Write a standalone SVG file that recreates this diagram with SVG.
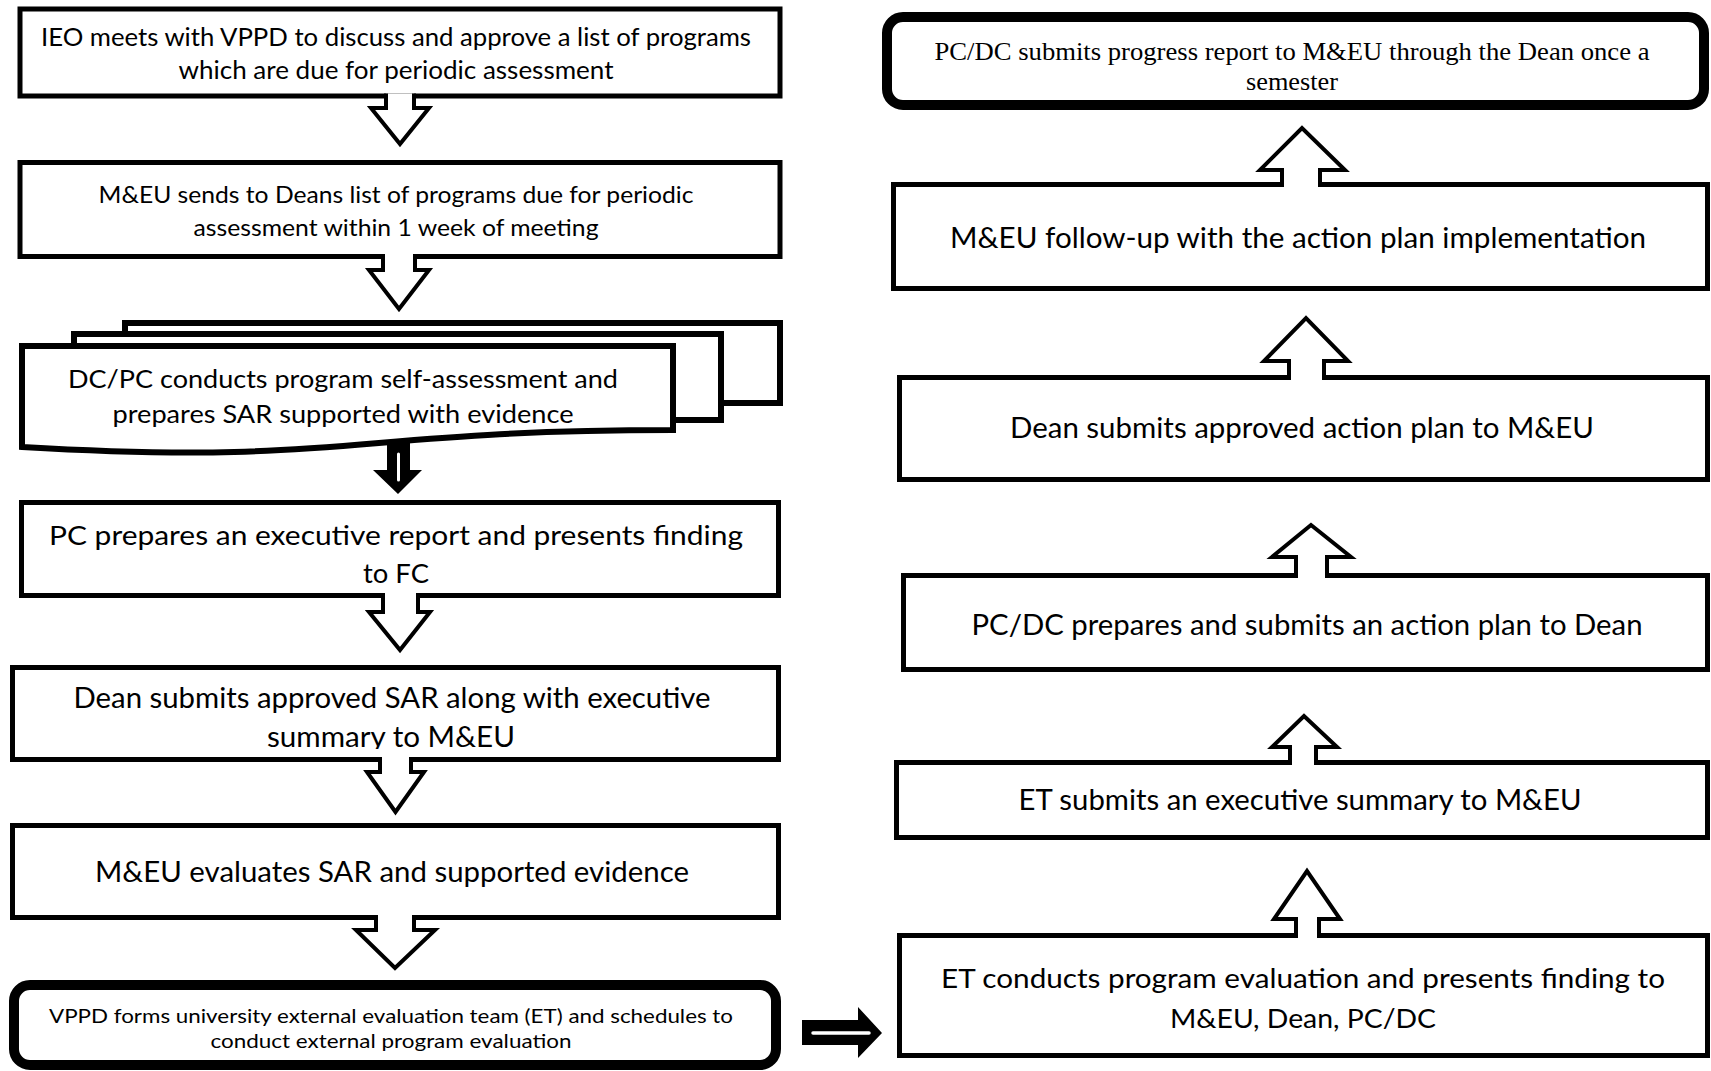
<svg xmlns="http://www.w3.org/2000/svg" width="1711" height="1071" viewBox="0 0 1711 1071">
<style>
.box{fill:#fff;stroke:#000;stroke-width:5}
.thick{fill:#fff;stroke:#000;stroke-width:10}
.sheet{fill:#fff;stroke:#000;stroke-width:6}
.arr{fill:#fff;stroke:#000;stroke-width:4;stroke-linejoin:miter}
.t{font-family:Lato,"Open Sans","DejaVu Sans",sans-serif;fill:#000;text-anchor:middle}
.s{font-family:"Liberation Serif","Times New Roman",serif;fill:#000;text-anchor:middle}
</style>
<defs>
<clipPath id="clip5"><rect x="0" y="660" width="800" height="89"/></clipPath>
</defs>
<rect width="1711" height="1071" fill="#fff"/>

<g id="n1">
<rect class="box" x="20" y="9" width="760" height="87"/>
<text class="t" font-size="24.5" x="396" y="46" textLength="710" lengthAdjust="spacingAndGlyphs">IEO meets with VPPD to discuss and approve a list of programs</text>
<text class="t" font-size="24.5" x="396" y="79" textLength="435" lengthAdjust="spacingAndGlyphs">which are due for periodic assessment</text>
</g>

<g id="n2">
<rect class="box" x="20" y="162.5" width="760" height="94"/>
<text class="t" font-size="23" x="396" y="203" textLength="595" lengthAdjust="spacingAndGlyphs">M&amp;EU sends to Deans list of programs due for periodic</text>
<text class="t" font-size="23" x="396" y="236" textLength="405" lengthAdjust="spacingAndGlyphs">assessment within 1 week of meeting</text>
</g>

<g id="n3">
<rect class="sheet" x="125" y="323" width="655" height="80"/>
<rect class="sheet" x="74" y="334" width="647" height="86"/>
<path class="sheet" d="M22,346 H673 V430 C347,430 347,466 22,447 Z"/>
<text class="t" font-size="25.5" x="343" y="388" textLength="550" lengthAdjust="spacingAndGlyphs">DC/PC conducts program self-assessment  and</text>
<text class="t" font-size="25.5" x="343" y="423" textLength="461" lengthAdjust="spacingAndGlyphs">prepares SAR supported with evidence</text>
</g>

<g id="n4">
<rect class="box" x="21.5" y="502.5" width="757" height="93"/>
<text class="t" font-size="27.5" x="396" y="545" textLength="694" lengthAdjust="spacingAndGlyphs">PC prepares an executive report and  presents finding</text>
<text class="t" font-size="27.5" x="396" y="583" textLength="66" lengthAdjust="spacingAndGlyphs">to FC</text>
</g>

<g id="n5">
<rect class="box" x="12.5" y="667.5" width="766" height="92"/>
<text class="t" font-size="28.5" x="392" y="708" textLength="637" lengthAdjust="spacingAndGlyphs">Dean submits approved SAR along with executive</text>
<text class="t" font-size="28.5" x="391" y="747" textLength="248" lengthAdjust="spacingAndGlyphs" clip-path="url(#clip5)">summary to M&amp;EU</text>
</g>

<g id="n6">
<rect class="box" x="12.5" y="825.5" width="766" height="92"/>
<text class="t" font-size="28.5" x="392" y="882" textLength="594" lengthAdjust="spacingAndGlyphs">M&amp;EU evaluates SAR and supported evidence</text>
</g>

<g id="n7">
<rect class="thick" x="14" y="985" width="762" height="80" rx="16" ry="16"/>
<text class="t" font-size="20" x="391" y="1023" textLength="684" lengthAdjust="spacingAndGlyphs">VPPD forms university external evaluation team (ET)  and schedules to</text>
<text class="t" font-size="20" x="391" y="1048" textLength="361" lengthAdjust="spacingAndGlyphs">conduct external program evaluation</text>
</g>

<g id="r1">
<rect class="thick" x="887" y="17" width="817" height="88" rx="16" ry="16"/>
<text class="s" font-size="25.5" x="1292" y="60" textLength="715" lengthAdjust="spacingAndGlyphs">PC/DC submits progress report to M&amp;EU through the Dean once a</text>
<text class="s" font-size="25.5" x="1292" y="90" textLength="92" lengthAdjust="spacingAndGlyphs">semester</text>
</g>

<g id="r2">
<rect class="box" x="893.5" y="184.5" width="814" height="104"/>
<text class="t" font-size="28.5" x="1298" y="248" textLength="696" lengthAdjust="spacingAndGlyphs">M&amp;EU follow-up with the action plan implementation</text>
</g>

<g id="r3">
<rect class="box" x="899.5" y="377.5" width="808" height="102"/>
<text class="t" font-size="28.5" x="1302" y="438" textLength="584" lengthAdjust="spacingAndGlyphs">Dean submits approved action plan to M&amp;EU</text>
</g>

<g id="r4">
<rect class="box" x="903.5" y="575.5" width="804" height="94"/>
<text class="t" font-size="28.5" x="1307" y="635" textLength="671" lengthAdjust="spacingAndGlyphs">PC/DC prepares and submits an action plan to Dean</text>
</g>

<g id="r5">
<rect class="box" x="896.5" y="762.5" width="811" height="75"/>
<text class="t" font-size="28.5" x="1300" y="810" textLength="563" lengthAdjust="spacingAndGlyphs">ET submits an executive summary to M&amp;EU</text>
</g>

<g id="r6">
<rect class="box" x="899.5" y="935.5" width="808" height="120"/>
<text class="t" font-size="27.5" x="1303" y="988" textLength="724" lengthAdjust="spacingAndGlyphs">ET conducts program evaluation and presents finding to</text>
<text class="t" font-size="27.5" x="1303" y="1028" textLength="266" lengthAdjust="spacingAndGlyphs">M&amp;EU, Dean, PC/DC</text>
</g>

<g id="connectors">
<path class="arr" d="M386,93.5 V108 H371 L400,144 L429,108 H414 V93.5"/>
<path class="arr" d="M383,254 V270 H369 L399,309 L429,270 H415 V254"/>
<path d="M387,440 V470 H373 L398,494 L422,470 H410 V440 Z" fill="#000"/>
<line x1="398.5" y1="454" x2="398.5" y2="480" stroke="#fff" stroke-width="3" stroke-linecap="round"/>
<path class="arr" d="M383,593 V612 H369 L400,650 L430,612 H418 V593"/>
<path class="arr" d="M380,757 V772 H367 L395.5,812 L424,772 H411 V757"/>
<path class="arr" d="M376,915 V930 H356 L395,968 L435,930 H414 V915"/>
<path d="M802,1020 H858 V1007 L882,1033 L858,1058 V1045 H802 Z" fill="#000"/>
<line x1="813" y1="1033" x2="869" y2="1033" stroke="#fff" stroke-width="3.5" stroke-linecap="round"/>
<path class="arr" d="M1282,187 V170 H1260 L1302,128 L1345,170 H1320 V187"/>
<path class="arr" d="M1289,380 V361 H1264 L1306,318 L1348,361 H1324 V380"/>
<path class="arr" d="M1296,578 V557 H1272 L1311,525 L1351,557 H1327 V578"/>
<path class="arr" d="M1290,765 V747 H1272 L1304,716 L1337,747 H1316 V765"/>
<path class="arr" d="M1296,938 V919 H1274 L1307,871 L1340,919 H1319 V938"/>
</g>
</svg>
